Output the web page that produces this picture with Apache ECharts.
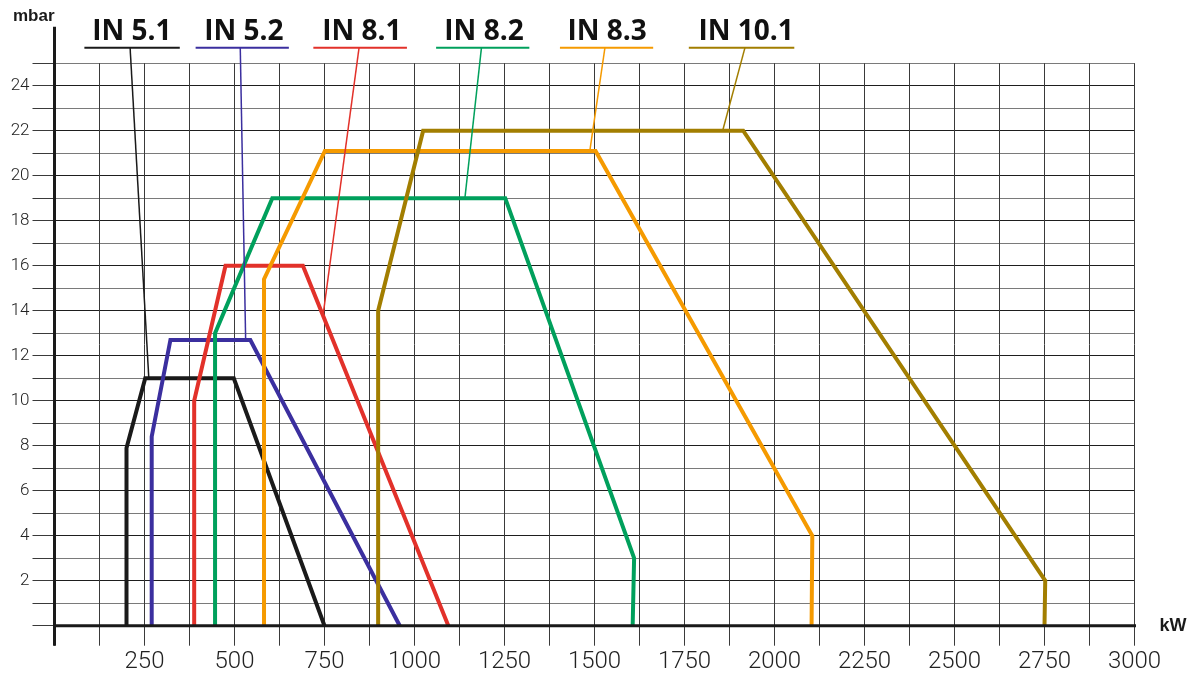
<!DOCTYPE html>
<html>
<head>
<meta charset="utf-8">
<script src="https://cdn.jsdelivr.net/npm/echarts@6/dist/echarts.min.js"></script>
<style>
html,body{margin:0;padding:0;background:#fff;}
#chart{width:1195px;height:675px;}
</style>
</head>
<body>
<div id="chart"></div>
<script>
// ---- data ----
const seriesNames = ['IN 5.1', 'IN 5.2', 'IN 8.1', 'IN 8.2', 'IN 8.3', 'IN 10.1'];
const seriesColors = ['#1a1a1a', '#3b2f9f', '#e2312a', '#00a05c', '#f59a00', '#a27e00'];

const in51 = [[200, 0], [200, 7.9], [252, 11], [498, 11], [750, 0]];
const in52 = [[270, 0], [270, 8.4], [322, 12.7], [544, 12.7], [959, 0]];
const in81 = [[388, 0], [388, 10], [475, 16], [690, 16], [1094, 0]];
const in82 = [[446, 0], [446, 13], [605, 19], [1252, 19], [1610, 3], [1606, 0]];
const in83 = [[582, 0], [582, 15.4], [751, 21.1], [1503, 21.1], [2105, 4], [2103, 0]];
const in101 = [[899, 0], [899, 14], [1024, 22], [1913, 22], [2752, 2], [2750, 0]];
const curves = [in51, in52, in81, in82, in83, in101];

// legend annotations (kW / mbar units)
const labelCenterX = [215, 526, 854, 1193, 1535, 1921];
const leaderTopX = [210, 516, 846, 1186, 1529, 1918];
const underlineX = [[83, 348], [392, 651], [719, 979], [1060, 1319], [1404, 1663], [1762, 2055]];
const leaderTarget = [[262, 11], [531, 12.7], [746, 13.8], [1140, 19], [1487, 21.1], [1856, 22]];
const underlineY = 25.69;
const labelY = 26.39;

const xMax = 3000, xStep = 125, xLabelStep = 250;
const yMax = 25, yStep = 1, yLabelStep = 2;

// ---- chart ----
const chart = echarts.init(document.getElementById('chart'));
const series = [];

curves.forEach((c, i) => {
  series.push({
    name: seriesNames[i], type: 'line', data: c, showSymbol: false, symbol: 'none',
    lineStyle: { color: seriesColors[i], width: 4, join: 'miter' }, z: 5 + i, silent: true, clip: false
  });
  series.push({
    type: 'line', data: [[underlineX[i][0], underlineY], [underlineX[i][1], underlineY]],
    symbol: 'none', lineStyle: { color: seriesColors[i], width: 2 }, clip: false, silent: true, z: 20
  });
  series.push({
    type: 'line', data: [[leaderTopX[i], underlineY], leaderTarget[i]],
    symbol: 'none', lineStyle: { color: seriesColors[i], width: 1.5 }, clip: false, silent: true, z: 20
  });
  series.push({
    type: 'scatter', data: [[labelCenterX[i], labelY]], symbolSize: 1, clip: false, silent: true, z: 21,
    itemStyle: { color: '#ffffff', opacity: 1 },
    label: { show: true, position: 'inside', formatter: seriesNames[i], opacity: 1,
      fontFamily: 'Open Sans', fontWeight: 'bold', fontSize: 28, color: '#111111',
      textBorderWidth: 0, textBorderColor: 'transparent' }
  });
});

// axis lines extended beyond the plotting area
series.push({ type: 'line', data: [[0, -0.89], [0, 26.62]], symbol: 'none', clip: false, silent: true, z: 30,
  lineStyle: { color: '#1a1a1a', width: 3 } });
series.push({ type: 'line', data: [[-62, 0], [3062, 0]], symbol: 'none', clip: false, silent: true, z: 30,
  lineStyle: { color: '#1a1a1a', width: 3 } });

chart.setOption({
  animation: false,
  backgroundColor: '#fff',
  grid: { left: 54.5, right: 60.5, top: 63.2, bottom: 49.3 },
  xAxis: {
    type: 'value', min: 0, max: xMax, interval: xStep,
    name: 'kW', nameLocation: 'end', nameGap: 25,
    nameTextStyle: { fontFamily: 'Liberation Sans', fontWeight: 'bold', fontSize: 18, color: '#1a1a1a', verticalAlign: 'middle' },
    axisLine: { show: false },
    axisTick: { show: true, length: 20, lineStyle: { color: '#3a3a3a', width: 1 } },
    axisLabel: { margin: 24, fontFamily: 'Roboto', fontWeight: 300, fontSize: 24, color: '#222',
      formatter: v => (v % xLabelStep === 0 && v !== 0) ? String(v) : '' },
    splitLine: { show: true, lineStyle: { color: '#3a3a3a', width: 1 } }
  },
  yAxis: {
    type: 'value', min: 0, max: yMax, interval: yStep,
    name: 'mbar', nameLocation: 'end', nameGap: 38,
    nameTextStyle: { fontFamily: 'Liberation Sans', fontWeight: 'bold', fontSize: 17, color: '#1a1a1a', align: 'right' },
    axisLine: { show: false },
    axisTick: { show: true, length: 22, lineStyle: { color: '#3a3a3a', width: 1 } },
    axisLabel: { margin: 25, fontFamily: 'Roboto', fontWeight: 300, fontSize: 17, color: '#222',
      formatter: v => (v % yLabelStep === 0 && v !== 0) ? String(v) : '' },
    splitLine: { show: true, lineStyle: { color: ['#1e1e1e', '#7a7a7a'], width: 1 } }
  },
  series: series
});
</script>
</body>
</html>
